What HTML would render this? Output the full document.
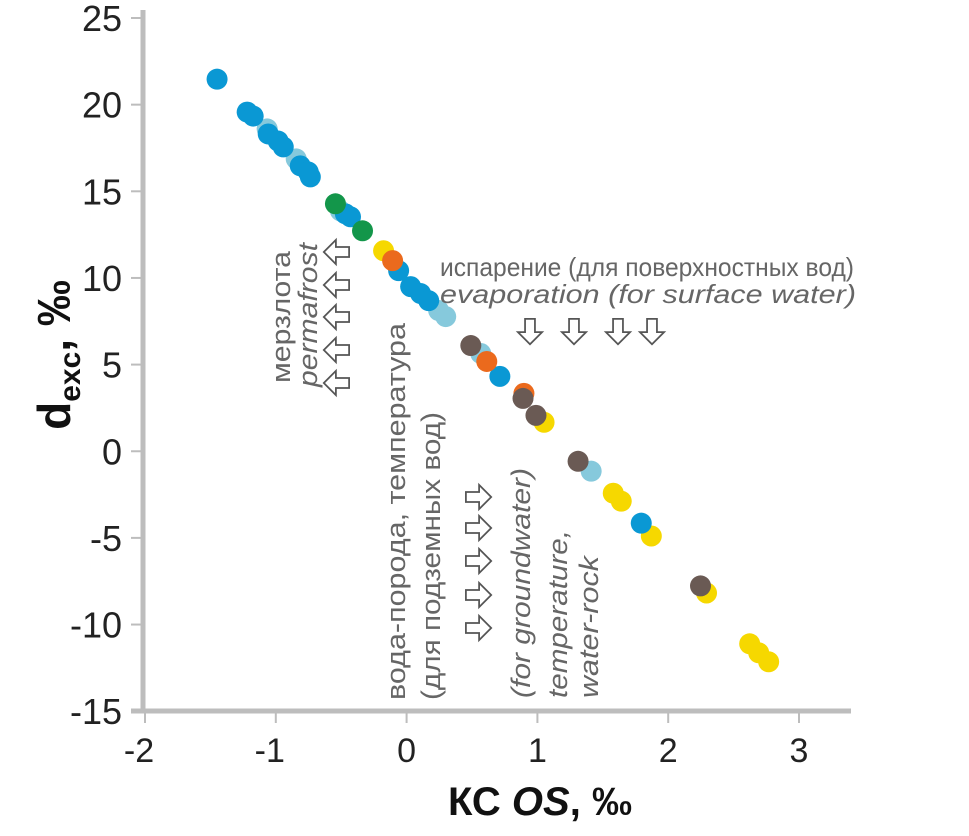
<!DOCTYPE html>
<html><head><meta charset="utf-8"><style>
html,body{margin:0;padding:0;background:#fff;}
svg{display:block;font-family:"Liberation Sans","DejaVu Sans",sans-serif;}
</style></head><body>
<svg id="chart" width="969" height="836" viewBox="0 0 969 836">
<g id="axes"></g>
<g id="marks"></g>
<g id="annot" fill="#666" font-size="27">
  <text x="440" y="276" font-size="26" textLength="414" lengthAdjust="spacingAndGlyphs">испарение (для поверхностных вод)</text>
  <text x="440" y="303" font-size="26" font-style="italic" textLength="416" lengthAdjust="spacingAndGlyphs">evaporation (for surface water)</text>
  <text transform="translate(290,383) rotate(-90)" textLength="132" lengthAdjust="spacingAndGlyphs">мерзлота</text>
  <text transform="translate(317,387) rotate(-90)" font-style="italic" textLength="144" lengthAdjust="spacingAndGlyphs">permafrost</text>
  <text transform="translate(405,700) rotate(-90)" textLength="377" lengthAdjust="spacingAndGlyphs">вода-порода, температура</text>
  <text transform="translate(440,700) rotate(-90)" textLength="288" lengthAdjust="spacingAndGlyphs">(для подземных вод)</text>
  <text transform="translate(530,698) rotate(-90)" font-style="italic" textLength="230" lengthAdjust="spacingAndGlyphs">(for groundwater)</text>
  <text transform="translate(567,698) rotate(-90)" font-style="italic" textLength="168" lengthAdjust="spacingAndGlyphs">temperature,</text>
  <text transform="translate(598,698) rotate(-90)" font-style="italic" textLength="142" lengthAdjust="spacingAndGlyphs">water-rock</text>
</g>
<g id="arrows" fill="#fff" stroke="#555" stroke-width="1.6"></g>
<text x="540" y="815" text-anchor="middle" font-size="40" font-weight="bold" fill="#111">КС <tspan font-style="italic">OS</tspan>, ‰</text>
<text transform="translate(70,355) rotate(-90)" text-anchor="middle" font-size="46" font-weight="bold" fill="#111">d<tspan font-size="30" dy="10">exc</tspan><tspan dy="-10">, ‰</tspan></text>
</svg>
<script>
const xTicks = [-2,-1,0,1,2,3];
const yTicks = [25,20,15,10,5,0,-5,-10,-15];
const colors = {blue:"#0a98d4", light:"#86c9dc", green:"#13964a", orange:"#eb6a1d", brown:"#6a5a54", yellow:"#f6d800"};
const yellowX = [-0.176,1.051,1.580,1.641,1.871,2.293,2.623,2.692,2.768];
const yellowY = [11.57,1.67,-2.42,-2.88,-4.89,-8.18,-11.11,-11.63,-12.15];
const lightX = [-1.066,-0.844,-0.506,0.245,0.299,0.567,1.411];
const lightY = [18.60,16.87,13.87,8.12,7.77,5.64,-1.15];
const blueX = [-1.449,-1.219,-1.173,-1.058,-0.982,-0.943,-0.813,-0.752,-0.736,-0.468,-0.429,-0.061,0.031,0.107,0.169,0.713,1.794];
const blueY = [21.47,19.57,19.34,18.31,17.90,17.56,16.47,16.12,15.83,13.70,13.53,10.42,9.50,9.10,8.69,4.32,-4.15];
const greenX = [-0.544,-0.337];
const greenY = [14.28,12.72];
const orangeX = [-0.107,0.613,0.897];
const orangeY = [11.00,5.18,3.34];
const brownX = [0.491,0.890,0.989,1.311,2.247];
const brownY = [6.10,3.05,2.07,-0.58,-7.77];

const NS="http://www.w3.org/2000/svg";
function sx(v){return 145+(v+2)*130.8;}
function sy(v){return 18+(25-v)*17.33;}
function mk(tag,attrs,parent){const e=document.createElementNS(NS,tag);for(const k in attrs)e.setAttribute(k,attrs[k]);parent.appendChild(e);return e;}
const axes=document.getElementById('axes');
let l=mk('line',{x1:143,y1:10,x2:143,y2:713,stroke:'#bdbdbd','stroke-width':5},axes);


l=mk('line',{x1:131,y1:711,x2:851,y2:711,stroke:'#bdbdbd','stroke-width':5},axes);


yTicks.forEach(v=>{
  const t=mk('line',{x1:131,y1:sy(v),x2:141,y2:sy(v),stroke:'#bdbdbd','stroke-width':2},axes);
  
  
  const tx=mk('text',{x:122,y:sy(v)+13,'text-anchor':'end','font-size':36,fill:'#222'},axes);
  tx.textContent=v;
  
  
});
xTicks.forEach(v=>{
  const t=mk('line',{x1:sx(v),y1:713,x2:sx(v),y2:723,stroke:'#bdbdbd','stroke-width':2},axes);
  
  
  const tx=mk('text',{x:sx(v)-(v<0?6:0),y:762,'text-anchor':'middle','font-size':34,fill:'#222'},axes);
  tx.textContent=v;
  
  
});
const marks=document.getElementById('marks');
function series(xs,ys,col,name){
  xs.forEach((x,i)=>{
    const c=mk('circle',{cx:sx(x),cy:sy(ys[i]),r:10.5,fill:colors[col]},marks);
    
    
  });
}
series(yellowX,yellowY,'yellow','point-yellow');
series(lightX,lightY,'light','point-light-blue');
series(blueX,blueY,'blue','point-blue');
series(greenX,greenY,'green','point-green');
series(orangeX,orangeY,'orange','point-orange');
series(brownX,brownY,'brown','point-brown');

const arrows=document.getElementById('arrows');
function arrow(cx,cy,dir,name){
  const p="-11,-4.5 1,-4.5 1,-11 12,0 1,11 1,4.5 -11,4.5";
  const rot={right:0,down:90,left:180}[dir];
  const a=mk('polygon',{points:p,transform:`translate(${cx},${cy}) rotate(${rot}) scale(1.1)`},arrows);
  
  
}
[530,574,618,652].forEach(x=>arrow(x,331,'down','evaporation-arrow'));
[252,285,317,350,383].forEach(y=>arrow(337,y,'left','permafrost-arrow'));
[497,528,561,595,628].forEach(y=>arrow(478,y,'right','groundwater-arrow'));
</script>
</body></html>
